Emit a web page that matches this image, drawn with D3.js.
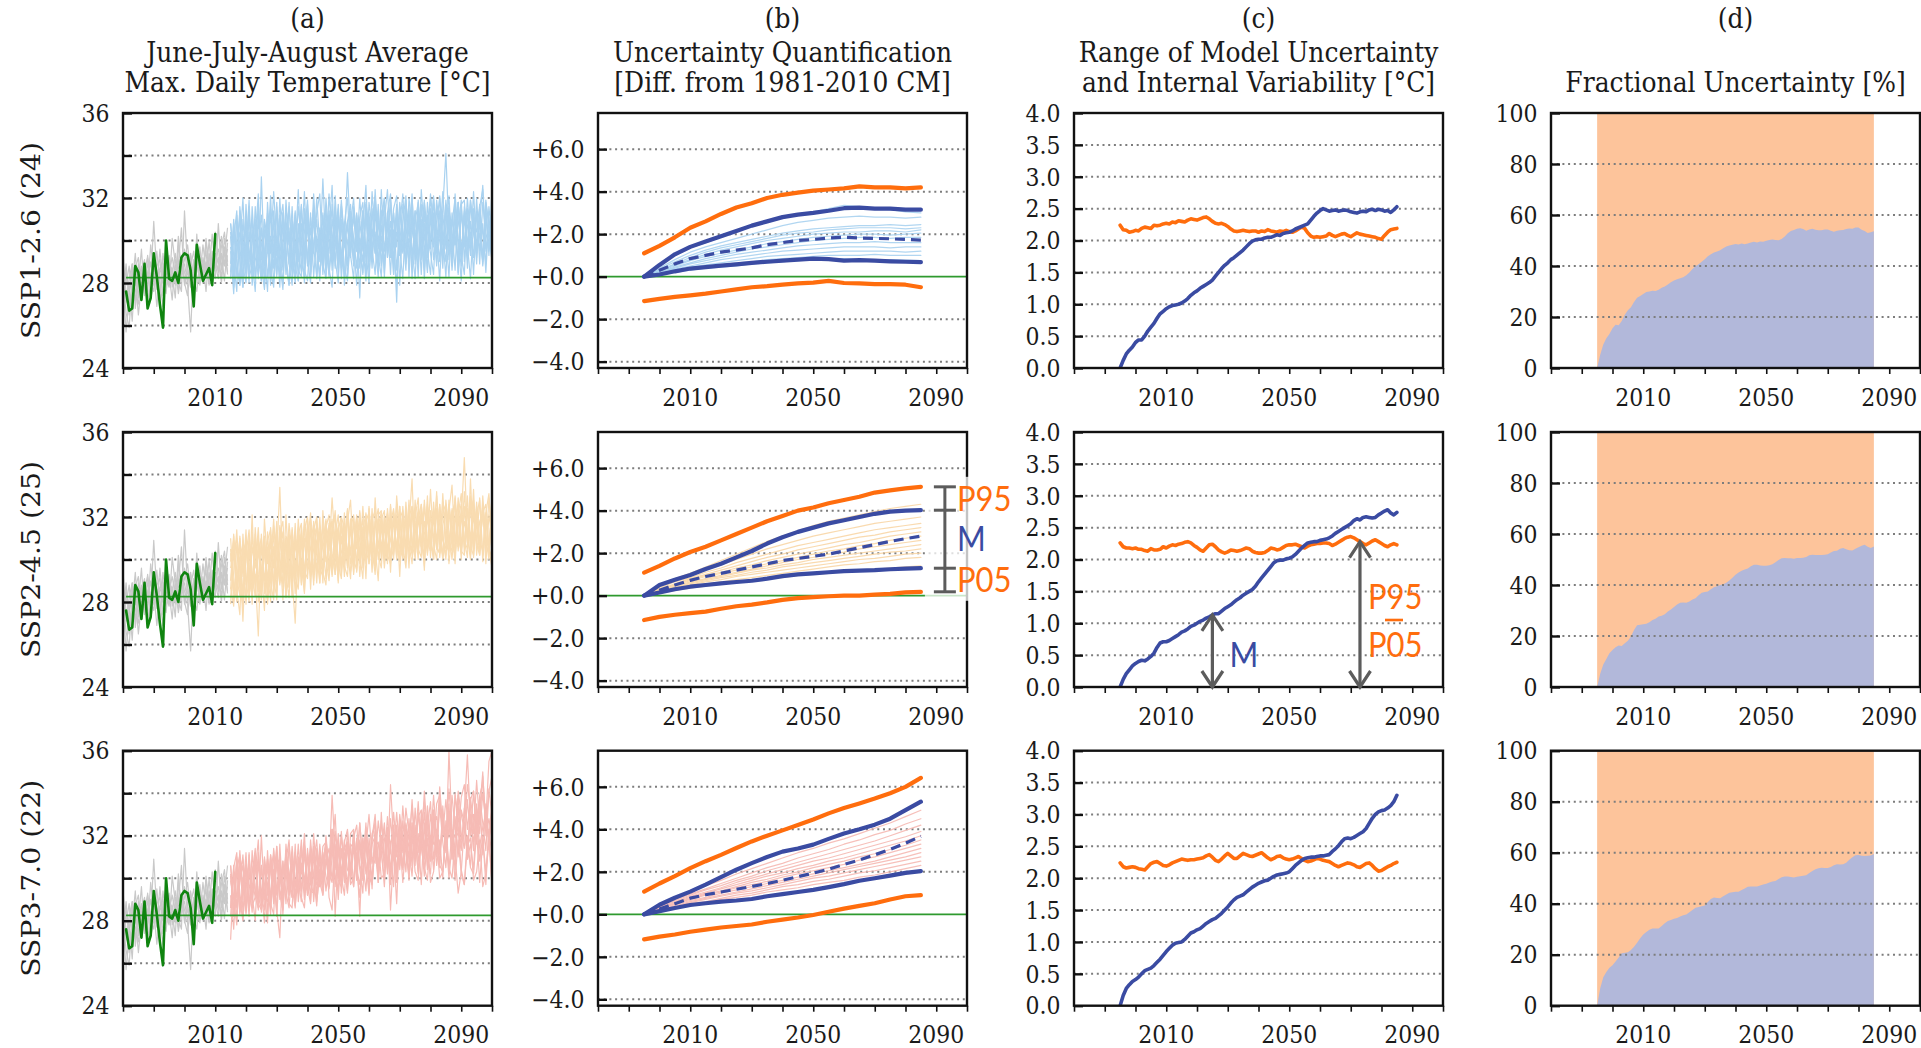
<!DOCTYPE html>
<html>
<head>
<meta charset="utf-8">
<script src="https://d3js.org/d3.v7.min.js"></script>
<style>
  body { margin: 0; background: #fff; }
  svg { display: block; }
</style>
</head>
<body>
<svg id="fig" width="1921" height="1048"></svg>
<script>
// ---------------------------------------------------------------
// JJA average of daily maximum temperature (°C)
// ---------------------------------------------------------------
const obsStart = 1981;            // observations 1981-2010
const obsTmax = [27.6,26.7,26.8,28.8,28.5,27.2,28.9,26.8,27.3,29.4,28.3,27.0,25.9,30.0,28.2,
                 28.1,28.5,28.0,29.2,29.4,29.3,28.6,26.9,29.8,28.9,28.1,28.4,28.7,27.9,30.3];

const histStart = 1980;           // historical model runs 1980-2014
const histRuns = [
  [27.9,25.7,27.4,28.6,27.1,28.9,28.2,27.5,29.3,28.0,30.9,28.4,27.2,28.8,29.1,27.9,28.5,29.4,28.1,27.6,31.4,28.7,27.8,28.9,29.2,28.3,29.8,28.6,28.0,29.5,28.9,28.2,29.7,30.4,28.8],
  [28.8,27.6,26.5,27.9,29.4,27.3,28.6,29.1,27.0,28.3,28.9,27.7,29.6,28.1,27.5,29.0,28.4,27.3,29.8,28.6,28.2,27.9,25.7,29.1,28.5,29.4,28.0,30.1,28.7,27.9,29.3,28.5,30.2,28.9,29.6],
  [26.9,28.4,27.8,26.2,28.7,29.2,27.6,28.4,28.9,27.2,28.1,29.5,28.0,26.9,28.7,29.3,27.8,28.6,28.9,30.6,27.9,28.8,29.4,28.2,27.6,29.0,28.7,29.5,27.9,28.8,30.4,29.1,28.3,29.7,28.4],
  [29.5,27.1,28.2,28.9,26.8,28.0,29.6,27.4,28.1,29.0,27.9,28.6,27.3,29.4,28.2,27.8,30.1,28.9,27.5,28.4,29.1,29.8,28.5,27.7,30.3,28.1,28.9,27.6,29.4,28.7,28.2,30.8,28.6,29.3,30.6],
  [28.2,26.6,25.9,28.1,27.7,27.0,28.4,28.8,27.6,29.8,28.5,26.9,28.3,28.0,29.6,28.4,27.2,29.1,28.7,29.3,28.0,27.4,28.8,29.5,28.3,27.9,29.2,28.4,30.0,28.2,29.0,28.6,29.4,28.1,29.9],
  [27.4,28.9,27.0,27.8,28.3,26.5,27.9,28.6,29.2,28.1,27.6,28.8,29.1,27.4,28.3,29.0,28.6,27.9,30.2,28.5,28.9,28.0,29.3,27.6,28.8,29.7,28.2,29.0,28.5,30.3,28.7,29.2,28.0,29.6,28.5],
  [28.6,27.9,28.8,27.2,28.0,28.7,27.3,29.0,28.4,27.5,29.3,28.2,28.7,29.0,27.8,28.5,29.2,28.3,27.7,29.0,29.6,28.4,28.1,28.7,29.3,28.0,28.6,29.9,28.8,28.4,29.1,29.6,28.7,30.1,29.0],
  [28.0,28.5,27.6,28.9,27.9,28.2,28.8,27.7,28.5,28.9,28.3,27.8,28.6,28.4,29.0,28.2,28.7,28.0,28.9,29.2,28.5,28.1,28.8,28.6,28.9,29.1,28.4,28.8,29.2,28.6,29.4,28.9,29.2,28.8,29.3]
];

const futStart = 2015;            // scenario runs 2015-2100
const ssp126Runs = [
  [30.4,28.3,31.2,29.0,27.8,30.9,29.6,28.5,31.6,29.2, 28.1,30.9,30.2,27.9,31.4,29.3,30.6,28.6,31.9,29.8, 30.8,28.4,29.9,31.7,28.9,31.0,28.5,31.5,29.6,30.4, 28.6,32.0,30.1,29.0,31.2,28.3,30.9,29.7,33.2,30.2, 29.0,31.3,29.4,28.5,31.8,30.6,29.2,31.4,28.8,31.1, 32.0,29.5,30.5,28.4,31.3,29.3,31.7,30.0,29.0,31.4, 29.1,31.9,30.1,28.6,31.2,29.6,32.0,30.3,29.0,31.5, 34.1,30.4,29.3,31.8,29.9,28.8,31.4,29.7,31.9,30.5, 29.2,31.5,30.3,28.9,31.6,30.0],
  [28.9,30.8,28.3,29.8,32.0,28.5,30.4,29.1,27.6,31.2, 29.9,28.0,31.8,29.4,30.9,28.4,29.8,31.3,28.8,27.9, 31.0,29.5,32.4,29.0,28.3,30.9,29.7,31.6,28.2,29.9, 31.2,29.1,30.4,32.6,28.7,31.0,29.5,28.3,30.8,29.4, 31.6,30.3,28.7,31.4,29.5,28.0,30.9,32.1,29.6,30.2, 29.0,31.3,32.2,29.8,27.9,30.6,29.4,31.7,30.6,28.8, 31.4,29.2,30.3,31.9,29.5,28.4,31.0,29.7,32.1,30.1, 29.0,31.5,30.5,28.6,31.8,29.5,31.2,29.8,28.2,30.9, 30.4,31.7,29.1,31.3,29.6,30.6],
  [28.2,30.1,31.4,27.9,29.6,30.7,28.4,29.9,31.0,28.2, 33.0,28.8,30.5,28.2,29.7,31.4,28.9,27.7,30.8,29.9, 28.6,31.3,28.1,30.0,31.1,29.1,28.0,31.6,29.5,30.6, 28.4,30.3,29.4,31.7,28.8,31.3,28.2,30.0,30.9,29.2, 31.5,29.5,32.0,29.8,28.1,30.9,29.7,30.4,28.6,32.4, 29.5,30.8,28.4,31.3,29.7,31.8,30.4,28.9,31.4,29.3, 30.5,28.3,31.7,29.4,30.8,32.0,29.1,30.2,28.1,31.2, 29.8,31.6,28.8,32.2,30.1,29.2,31.3,28.7,31.7,30.4, 29.4,30.9,32.6,29.6,30.4,29.0],
  [30.8,29.0,27.6,31.6,29.8,28.3,31.2,28.9,30.1,32.2, 28.1,29.5,30.9,28.6,27.8,31.6,29.3,30.7,28.4,31.8, 29.2,28.0,30.6,29.8,32.3,28.8,31.3,28.3,30.2,29.4, 32.9,29.6,28.4,31.0,29.9,31.5,28.7,30.8,32.0,29.3, 28.2,31.2,29.8,30.6,32.6,29.0,31.5,29.6,28.3,31.3, 31.8,29.2,30.9,29.7,31.7,27.9,30.9,32.1,29.4,30.2, 31.4,28.9,32.4,30.3,28.6,31.1,29.7,31.9,30.6,29.1, 31.7,29.5,30.8,32.0,28.5,31.3,30.1,29.2,31.9,30.4, 29.6,31.1,28.9,31.8,30.8,29.4],
  [29.5,27.5,30.1,31.0,28.1,29.9,28.0,31.6,29.2,28.4, 30.6,29.3,27.6,31.2,30.1,28.3,32.0,29.2,30.4,28.9, 27.9,30.9,29.6,28.5,31.5,28.9,31.1,29.7,28.3,30.5, 29.4,31.6,28.7,27.8,30.9,29.5,31.7,29.9,28.9,31.2, 28.8,30.5,27.3,31.4,29.4,30.9,28.7,31.8,29.7,30.7, 28.5,31.3,29.2,30.5,27.1,31.6,29.5,30.8,28.9,32.0, 29.7,30.9,28.4,31.4,29.2,30.1,32.1,29.4,30.6,28.7, 31.5,29.1,31.0,29.8,31.8,29.0,31.2,29.6,30.4,29.2, 32.0,29.5,30.8,28.5,31.1,29.8],
  [28.5,31.0,29.0,27.9,30.3,29.5,31.9,28.4,29.6,30.9, 28.8,27.7,29.7,31.5,29.2,31.8,28.2,29.9,31.1,28.9, 31.6,28.8,28.1,30.8,29.4,31.7,29.1,32.2,29.6,28.4, 30.3,29.5,31.2,28.6,32.1,29.4,30.8,28.7,28.1,31.3, 29.9,27.9,30.9,29.5,31.7,29.0,32.3,30.0,29.3,28.3, 31.1,29.8,31.9,29.1,30.4,29.6,28.2,31.3,30.2,32.2, 28.9,31.6,29.4,30.8,28.5,31.5,29.8,30.9,32.0,29.2, 30.2,28.3,31.3,29.8,30.7,31.9,29.0,31.4,29.5,32.3, 29.6,30.9,28.8,31.7,29.3,32.5],
  [29.7,28.6,30.9,29.8,27.8,31.7,29.0,30.5,28.2,30.0, 31.2,28.4,29.6,32.1,28.7,30.1,29.6,27.9,31.5,30.4, 29.0,31.4,28.6,28.3,30.4,31.9,29.2,30.9,29.8,28.1, 31.3,28.9,32.2,30.0,29.1,28.0,31.6,29.7,30.9,31.7, 29.2,30.8,29.7,28.4,31.3,30.2,29.0,32.4,29.8,31.4, 28.3,30.9,29.4,31.5,32.1,29.5,30.4,29.0,31.6,28.2, 30.9,31.8,29.3,30.2,29.6,32.2,30.6,28.8,31.4,29.8, 31.9,30.3,29.2,31.2,28.4,31.6,29.7,32.0,30.1,29.3, 31.4,28.9,31.8,30.4,29.5,30.9],
  [30.8,29.3,28.6,28.0,31.0,28.9,31.6,27.9,29.5,31.7, 29.1,30.5,28.3,29.6,32.3,29.9,27.8,31.3,29.0,30.6, 28.3,29.3,31.6,29.9,28.0,30.8,28.8,29.7,31.3,32.2, 28.9,28.2,30.6,29.5,31.6,28.7,31.0,27.9,29.9,30.8, 32.0,29.5,30.1,29.0,31.4,28.4,30.5,29.4,31.7,28.8, 30.9,32.4,29.7,28.9,31.2,30.0,29.5,31.9,28.3,31.0, 29.8,31.3,29.1,31.8,30.4,29.4,28.4,31.6,30.2,29.2, 30.7,32.1,29.4,30.1,29.0,31.7,31.9,29.6,30.9,28.4, 31.3,30.2,29.2,31.9,30.6,29.6],
  [28.3,30.4,29.2,31.4,28.8,28.0,30.0,31.0,28.4,29.4, 30.5,29.0,31.3,28.1,29.8,28.9,30.8,31.7,29.4,27.9, 29.9,31.2,29.0,31.6,28.6,28.1,30.6,29.4,32.0,29.7, 28.7,31.0,28.3,30.0,31.4,29.1,31.9,30.1,28.8,31.4, 30.1,28.7,31.1,31.8,29.0,31.3,29.6,28.4,30.9,29.5, 32.0,29.2,30.3,31.3,28.6,30.7,32.2,29.4,30.1,29.6, 28.2,31.2,30.4,29.0,31.8,29.8,31.3,29.0,30.1,32.3, 29.6,30.9,28.6,30.4,31.8,29.3,28.4,31.5,29.8,31.1, 28.9,31.6,32.4,29.5,30.5,29.0],
  [30.2,27.8,29.5,30.4,29.0,31.2,28.2,28.9,30.6,29.7, 28.4,31.0,29.4,30.2,28.0,29.7,31.2,29.0,29.9,31.6, 29.3,28.3,30.8,29.3,29.8,31.3,28.4,29.6,31.0,29.0, 30.6,28.4,31.4,29.3,29.6,31.7,29.0,30.8,28.3,29.9, 31.1,29.6,28.9,30.4,28.4,31.8,30.6,29.4,31.4,28.9, 29.7,30.5,31.8,28.4,31.2,29.3,30.3,28.6,32.0,30.7, 29.5,28.9,31.0,28.2,30.8,29.8,31.8,30.4,29.2,30.1, 28.3,31.3,29.5,30.6,29.9,28.1,31.6,30.7,29.3,31.5, 29.8,30.3,29.0,31.1,29.6,31.4]
];
const ssp245Runs = [
  [29.0,31.2,28.0,30.1,27.1,30.6,29.7,28.2,31.5,29.3, 28.2,31.9,29.8,30.8,28.4,30.2,33.4,29.4,30.9,28.7, 31.5,29.6,31.1,28.9,31.4,32.0,29.4,30.5,31.6,29.5, 30.8,31.9,29.3,31.0,32.3,29.8,29.1,31.7,30.2,31.4, 32.1,29.4,31.1,31.9,29.8,32.4,30.5,29.3,31.9,30.6, 31.5,29.8,32.6,30.4,31.9,29.2,32.1,30.6,31.6,33.8, 30.0,32.2,31.0,29.7,32.6,31.3,30.0,32.4,30.9,30.2, 32.8,31.3,30.0,32.0,32.5,30.3,31.8,31.0,33.0,30.1, 31.9,30.7,32.6,29.8,32.1,31.1],
  [30.3,28.4,29.7,31.0,27.7,30.2,31.4,28.5,29.3,26.4, 30.8,28.7,28.1,31.2,29.6,31.8,28.9,30.3,28.3,31.2, 29.1,27.0,30.8,29.7,31.9,30.6,29.2,31.4,32.0,30.0, 29.3,31.6,30.4,32.9,30.7,29.3,31.9,30.4,32.3,29.8, 30.6,32.1,29.9,31.5,29.1,32.5,30.4,31.8,30.0,31.6, 29.8,32.4,30.9,30.0,33.0,31.2,30.2,32.1,29.6,32.5, 31.5,30.0,32.6,31.3,30.3,32.3,30.8,33.2,30.1,31.6, 32.4,29.8,31.2,32.9,30.6,31.9,34.8,31.2,30.2,32.6, 31.5,30.3,33.0,31.0,30.0,32.3],
  [28.2,29.4,31.4,28.6,27.9,30.9,28.8,32.1,28.3,30.4, 29.4,27.6,31.3,29.0,30.6,28.1,31.6,29.4,31.0,28.7, 31.4,29.1,31.9,29.7,28.4,31.1,29.3,31.8,30.2,28.9, 32.3,30.0,29.0,31.4,32.0,29.6,31.1,29.2,31.8,32.8, 29.9,31.4,30.2,29.1,32.1,29.8,31.8,30.5,29.0,32.2, 30.5,31.9,29.4,32.3,30.0,32.5,30.7,29.6,32.0,30.2, 32.8,30.5,32.1,29.5,32.5,30.9,30.0,33.0,31.2,30.0, 31.0,32.6,31.4,29.8,32.4,30.6,33.2,31.1,30.0,32.1, 30.8,32.9,29.9,31.8,30.5,29.6],
  [29.9,30.9,28.6,27.4,31.2,29.0,28.0,30.6,29.6,31.5, 28.7,30.9,27.9,29.8,31.9,29.1,30.3,28.1,31.1,30.7, 28.6,31.3,29.2,31.6,29.4,30.8,32.2,29.3,30.9,31.3, 28.9,31.8,30.2,29.3,31.2,32.1,29.4,31.6,30.4,29.1, 32.0,30.5,32.3,29.6,30.9,31.8,29.9,32.9,30.5,32.0, 29.6,31.3,32.0,30.3,32.6,31.0,30.0,32.4,30.7,29.8, 32.0,32.9,30.3,31.8,30.6,33.3,30.7,30.0,32.3,31.0, 30.2,32.3,33.5,30.6,31.9,30.0,32.5,30.8,32.7,30.4, 32.0,30.2,32.6,31.0,30.6,32.3],
  [28.7,27.8,30.7,29.5,29.8,28.1,31.2,28.8,30.8,28.0, 29.5,31.1,28.8,28.3,30.6,29.2,31.5,28.7,30.1,31.3, 28.9,30.8,29.3,31.2,28.5,31.9,30.5,29.0,30.6,31.6, 30.7,29.1,31.7,30.3,29.3,31.4,32.0,29.7,29.2,31.6, 30.2,31.9,29.2,31.2,31.6,29.9,32.4,29.5,31.4,31.9, 32.3,30.0,31.8,30.4,32.0,29.9,32.5,30.5,32.8,30.7, 30.1,32.0,30.6,32.6,30.2,31.9,32.3,30.6,30.3,33.1, 30.7,30.4,32.3,30.8,32.9,30.4,30.2,32.4,30.9,33.3, 30.2,31.8,32.2,32.6,30.6,30.0],
  [29.6,30.5,28.3,31.1,29.2,31.4,28.4,29.0,30.8,28.5, 31.2,29.0,30.4,28.0,31.6,30.5,28.8,30.9,29.3,31.7, 30.3,29.1,31.5,28.8,31.0,29.3,31.9,31.0,28.9,31.3, 30.5,31.5,32.1,29.2,30.9,31.5,29.7,32.2,30.1,31.6, 29.4,32.0,30.1,32.5,30.4,29.9,31.9,32.3,30.2,29.6, 32.1,30.4,31.7,32.4,30.0,31.9,30.2,32.7,30.9,30.3, 31.8,30.3,32.3,30.6,33.0,30.1,32.0,30.5,32.6,31.0, 30.0,32.8,30.8,30.2,32.1,33.1,30.3,32.4,30.6,30.2, 32.5,30.9,30.4,32.2,33.1,30.7],
  [27.9,30.3,31.0,28.7,30.4,27.9,30.6,29.1,28.3,31.0, 28.6,30.2,30.9,31.4,28.9,28.3,31.2,31.8,29.0,30.6, 28.2,31.0,30.5,29.2,31.6,29.7,29.4,31.1,31.5,28.9, 31.7,29.9,30.5,31.9,29.3,31.2,30.4,29.8,32.4,30.2, 31.8,29.7,32.2,30.4,30.1,31.9,29.4,31.7,32.4,29.9, 31.6,32.2,29.9,31.9,30.5,32.5,30.1,32.0,30.2,32.3, 30.3,32.5,30.8,30.0,32.1,30.4,32.7,30.9,31.9,30.1, 32.5,30.5,32.4,30.2,32.0,32.6,30.9,30.1,33.8,30.5, 32.1,32.8,30.2,32.2,30.3,32.5],
  [30.5,28.0,29.0,30.7,28.3,31.0,29.2,28.5,30.2,30.9, 28.1,30.6,29.0,31.5,28.6,31.2,29.2,28.9,32.1,29.3, 30.9,28.4,31.2,31.7,28.9,30.6,31.3,28.8,31.9,29.6, 29.2,31.2,29.5,31.6,30.9,29.0,32.0,31.5,29.6,31.9, 30.0,29.5,31.8,30.2,32.2,29.8,31.7,30.0,32.1,32.3, 30.1,31.7,30.0,32.2,30.2,31.9,32.3,29.9,32.0,32.5, 30.3,31.9,32.6,30.4,32.2,30.6,30.3,32.3,30.7,32.7, 31.0,30.3,32.2,32.7,30.4,32.1,30.6,33.0,30.5,32.3, 30.7,30.2,32.5,30.8,30.6,32.6],
  [31.0,28.7,28.1,30.1,30.7,28.8,30.5,27.9,31.2,28.6, 29.2,30.9,28.3,30.2,31.1,28.6,30.4,31.3,28.2,30.8, 29.3,31.7,28.8,30.9,29.1,31.5,28.6,31.2,29.4,32.0, 29.3,31.0,31.6,29.6,31.3,28.9,31.7,29.9,32.3,29.4, 30.2,32.0,29.8,31.5,32.1,30.1,31.8,29.7,31.6,32.2, 30.6,30.0,32.5,30.2,32.1,30.5,30.1,32.2,30.7,30.3, 32.4,30.5,30.1,32.8,30.8,30.4,32.3,30.7,32.6,30.9, 30.5,32.3,30.6,33.0,31.0,30.4,32.4,30.7,32.5,30.9, 32.7,30.6,32.2,30.3,32.9,31.1],
  [28.6,31.1,29.1,28.3,30.4,30.8,28.2,31.3,28.8,30.4, 31.0,28.4,30.6,28.9,28.1,31.4,29.0,30.8,29.3,28.2, 31.1,29.2,28.6,31.2,29.5,29.1,31.6,29.3,30.8,31.2, 29.4,28.8,31.3,31.8,29.9,31.6,29.3,31.2,29.7,31.9, 29.3,31.3,31.6,29.9,31.8,32.2,30.2,29.7,31.9,30.3, 32.0,30.2,29.8,32.2,30.4,30.3,31.9,30.1,32.5,30.8, 30.4,32.2,30.6,30.3,32.3,30.7,32.4,30.5,30.3,32.2, 32.6,30.8,30.4,32.1,30.6,32.5,30.9,30.5,32.3,32.8, 30.8,30.4,32.4,30.7,30.3,32.2]
];
const ssp370Runs = [
  [30.1,28.2,30.9,29.0,28.0,30.6,29.8,28.4,31.2,29.1, 28.6,31.0,29.7,28.3,31.3,29.2,30.5,28.6,31.6,29.9, 30.9,28.7,30.2,31.8,29.3,31.1,28.9,31.5,29.9,30.4, 29.3,32.0,30.4,33.9,31.2,29.0,31.4,30.1,32.2,30.5, 29.6,31.9,30.4,29.3,32.4,31.1,30.0,32.2,29.8,31.6, 32.3,30.5,31.4,29.6,32.5,30.4,32.7,31.3,30.2,32.6, 30.6,33.1,31.5,30.4,33.0,31.3,33.2,31.8,30.7,33.4, 31.2,36.0,32.3,31.0,33.9,32.1,31.4,33.7,32.0,34.1, 31.9,33.8,32.6,31.3,34.2,32.9],
  [27.1,30.2,28.6,29.8,31.1,28.5,30.3,29.2,28.0,30.9, 29.5,27.9,31.3,29.0,30.4,28.5,27.2,30.8,29.3,28.6, 30.7,29.6,31.6,29.1,28.6,31.0,29.8,31.5,28.9,30.2, 31.2,29.4,30.6,32.3,28.2,31.4,30.1,29.2,31.6,30.3, 31.7,30.4,29.1,31.9,30.6,29.3,31.8,32.7,30.4,31.2, 30.0,32.4,28.5,31.2,29.8,31.7,30.5,32.6,31.4,30.1, 32.5,30.8,31.6,33.1,31.0,30.2,32.8,31.3,33.4,31.7, 30.5,33.0,32.1,30.4,33.4,31.8,32.6,31.4,30.6,33.0, 32.2,33.8,31.1,33.5,31.9,32.8],
  [28.6,30.5,31.2,28.3,29.8,30.6,28.5,30.2,31.4,28.6, 32.0,29.0,30.9,28.6,30.0,31.5,29.2,28.5,31.2,30.3, 29.1,31.6,28.9,30.5,31.5,29.6,28.8,32.1,30.1,31.2, 29.2,30.9,29.9,32.3,29.6,31.8,29.3,30.8,31.7,30.1, 32.2,30.4,32.6,30.7,29.4,31.9,30.7,31.4,29.8,33.1, 30.6,31.9,29.7,32.5,31.0,33.0,31.7,30.3,32.8,30.9, 32.0,30.2,33.2,31.2,32.4,33.6,30.9,32.1,30.5,33.0, 31.8,33.5,30.9,34.0,32.2,31.3,33.3,30.9,33.8,32.5, 31.6,33.2,35.0,32.0,32.8,31.8],
  [30.6,29.0,27.8,31.0,29.7,28.5,31.1,29.0,30.3,31.8, 28.4,29.7,30.9,28.8,28.3,31.5,29.6,30.8,28.8,31.6, 29.6,28.6,31.0,30.2,32.1,29.2,31.5,28.9,30.6,29.8, 29.2,31.7,30.5,31.3,33.0,30.0,32.2,30.6,29.3,32.1, 32.3,30.2,31.8,30.7,32.6,29.2,31.9,33.0,30.7,31.4, 32.6,30.4,34.4,31.8,30.3,32.7,31.2,33.3,32.1,30.6, 33.3,31.2,32.5,33.6,30.6,33.0,31.9,31.0,33.7,32.2, 31.6,33.1,30.9,33.9,32.9,31.4,33.2,35.8,32.6,31.7, 33.5,32.1,34.0,32.6,31.9,33.6],
  [29.2,27.6,30.4,31.1,28.4,30.0,28.2,31.3,29.1,28.6, 30.5,29.3,27.9,31.0,30.2,28.4,31.6,29.1,30.3,28.8, 28.6,31.2,29.9,28.9,31.5,29.2,31.3,30.0,28.7,30.9, 29.8,31.7,29.1,28.5,31.4,30.0,32.0,30.3,29.4,31.6, 29.6,31.2,28.2,31.9,30.2,31.6,29.5,32.4,30.4,31.3, 29.6,32.2,30.3,31.4,28.8,32.4,30.6,31.8,29.9,32.6, 30.9,32.1,29.7,32.6,30.4,31.3,33.2,30.6,31.8,30.0, 32.7,30.4,32.3,31.0,29.3,30.3,32.5,30.9,31.6,30.4, 33.0,30.8,32.0,29.7,32.3,31.0],
  [29.9,29.0,30.8,28.4,29.3,31.2,28.7,30.4,30.9,29.0, 30.6,28.5,29.4,31.1,29.0,30.7,30.9,29.0,31.3,29.6, 31.5,29.7,29.3,31.4,29.8,31.2,30.1,30.8,31.8,29.6, 30.9,31.6,29.6,32.3,30.4,32.1,30.2,31.7,32.3,30.3, 32.2,30.6,32.6,30.8,31.5,33.0,31.0,30.7,32.7,31.5, 30.8,32.9,31.2,33.1,31.4,31.0,33.4,31.5,31.1,33.7, 31.5,33.6,31.4,34.1,32.0,31.6,33.9,31.8,34.3,32.3, 31.8,34.2,32.2,31.9,34.1,33.0,32.3,34.4,33.3,32.1, 34.6,32.5,34.8,32.7,35.5,36.0],
  [28.2,30.6,29.1,29.9,30.6,28.3,30.2,29.6,29.2,31.2, 28.8,30.6,28.3,31.1,29.3,30.9,29.0,30.1,31.0,29.2, 30.8,29.0,30.7,29.4,31.2,29.3,30.9,31.0,29.2,31.3, 29.7,30.8,31.4,29.9,30.7,31.5,29.8,31.2,29.6,31.6, 31.4,29.9,31.7,30.1,31.8,30.0,31.6,32.0,30.3,32.0, 30.5,32.1,30.4,31.9,32.3,30.6,32.2,32.5,30.8,32.4, 30.9,31.8,32.5,30.9,32.7,30.8,32.5,32.9,31.1,32.8, 31.3,33.1,31.2,32.9,31.0,33.2,32.6,31.1,33.0,31.3, 33.3,31.5,32.4,33.1,31.4,33.4],
  [30.2,28.4,31.0,29.3,28.1,29.8,30.7,29.0,31.0,28.5, 30.6,29.2,28.9,30.5,31.1,28.2,30.8,29.0,30.6,29.7, 29.1,31.1,29.4,30.7,29.0,31.4,29.7,29.3,31.2,29.6, 31.0,30.1,29.5,31.0,31.6,29.9,29.6,31.4,31.7,29.8, 31.4,30.4,29.7,31.5,31.8,30.0,29.8,31.7,30.1,31.6, 31.9,30.2,31.7,32.1,30.3,31.9,30.4,32.2,30.2,32.0, 31.8,30.3,32.2,30.5,29.9,32.0,30.4,32.3,30.6,30.3, 32.1,30.5,30.0,31.9,32.4,30.4,29.7,32.0,30.5,30.2, 32.2,29.8,31.8,30.3,32.1,29.5],
  [30.6,28.3,29.0,31.3,29.0,30.8,28.5,29.5,31.1,28.8, 28.5,30.9,29.2,30.7,28.8,31.2,29.4,29.1,30.8,31.8, 29.4,31.2,29.3,31.5,29.8,29.4,31.8,30.1,29.7,31.6, 30.0,31.9,30.2,29.8,32.2,30.4,30.0,31.8,30.4,30.1, 31.9,32.5,30.6,30.2,32.2,30.5,32.1,32.5,30.3,32.7, 31.1,30.7,32.8,31.3,33.1,31.2,31.6,32.5,31.8,33.4, 31.2,32.9,33.2,31.4,33.4,31.8,31.6,33.5,33.9,32.1, 33.7,31.9,33.9,32.3,32.0,33.8,34.4,32.3,33.7,34.1, 32.2,33.9,34.5,32.4,34.1,34.8],
  [28.6,30.3,28.0,30.4,30.9,28.4,31.2,28.7,29.1,30.7, 28.9,28.6,30.6,29.0,31.4,29.3,31.0,28.3,30.7,29.2, 31.2,29.1,30.9,29.4,31.6,29.9,29.4,29.3,31.4,29.8, 31.5,31.7,29.6,31.6,30.0,29.5,31.3,29.8,31.5,29.7, 30.0,31.5,31.6,29.9,31.8,30.1,29.7,31.5,31.7,30.0, 30.2,31.9,29.9,31.6,30.1,31.8,29.8,31.6,30.0,32.0, 30.3,29.9,31.7,30.1,31.9,29.8,30.3,31.8,30.0,30.3, 32.0,30.0,31.6,29.9,31.8,30.2,29.7,31.5,31.9,29.9, 30.3,31.8,29.6,30.2,31.7,29.8]
];

// ---------------------------------------------------------------
// 30-year running means, change from the 1981-2010 model climatology (°C)
// centred years 1995, 2000, ..., 2085
// ---------------------------------------------------------------
const stepYears = d3.range(1995, 2086, 5);

const ssp126P95 = [1.10,1.45,1.85,2.30,2.60,2.95,3.25,3.45,3.70,3.85,3.95,4.05,4.10,4.15,4.25,4.20,4.20,4.15,4.20];
const ssp126P05 = [-1.15,-1.05,-0.95,-0.88,-0.80,-0.70,-0.60,-0.50,-0.45,-0.38,-0.32,-0.28,-0.20,-0.30,-0.32,-0.35,-0.35,-0.38,-0.50];
const ssp126Hi  = [0,0.55,1.05,1.40,1.65,1.90,2.15,2.40,2.60,2.80,2.92,3.00,3.10,3.22,3.25,3.20,3.20,3.15,3.15];
const ssp126Lo  = [0,0.10,0.25,0.38,0.45,0.52,0.58,0.65,0.70,0.75,0.80,0.85,0.82,0.75,0.78,0.75,0.72,0.70,0.68];
const ssp126Med = [0,0.30,0.60,0.85,1.00,1.15,1.25,1.35,1.50,1.60,1.70,1.75,1.82,1.85,1.82,1.80,1.78,1.75,1.72];
const ssp126Members = [
  [0,0.50,1.00,1.35,1.60,1.85,2.10,2.35,2.55,2.75,2.90,3.05,3.20,3.35,3.30,3.20,3.15,3.05,3.00],
  [0,0.40,0.80,1.15,1.40,1.60,1.80,2.00,2.20,2.40,2.55,2.65,2.75,2.80,2.85,2.80,2.80,2.75,2.80],
  [0,0.35,0.70,1.00,1.25,1.45,1.60,1.75,1.90,2.05,2.15,2.25,2.30,2.35,2.40,2.40,2.45,2.40,2.45],
  [0,0.30,0.60,0.90,1.15,1.35,1.50,1.65,1.80,1.95,2.05,2.10,2.20,2.25,2.30,2.30,2.30,2.25,2.30],
  [0,0.30,0.55,0.80,1.05,1.25,1.40,1.55,1.70,1.80,1.90,2.00,2.05,2.10,2.10,2.15,2.15,2.10,2.20],
  [0,0.25,0.50,0.75,0.95,1.10,1.25,1.40,1.55,1.65,1.75,1.85,1.90,1.95,2.00,2.00,1.95,2.00,2.05],
  [0,0.20,0.45,0.65,0.85,1.00,1.15,1.30,1.40,1.50,1.60,1.70,1.75,1.80,1.85,1.85,1.80,1.85,1.85],
  [0,0.20,0.40,0.60,0.75,0.90,1.05,1.15,1.25,1.35,1.45,1.50,1.55,1.60,1.60,1.65,1.60,1.60,1.60],
  [0,0.15,0.35,0.50,0.65,0.80,0.90,1.00,1.10,1.20,1.25,1.30,1.35,1.40,1.40,1.40,1.35,1.40,1.40],
  [0,0.15,0.30,0.45,0.55,0.65,0.75,0.85,0.95,1.00,1.05,1.10,1.15,1.20,1.20,1.20,1.20,1.15,1.20],
  [0,0.10,0.25,0.35,0.45,0.55,0.65,0.70,0.80,0.85,0.90,0.95,1.00,1.00,1.00,1.05,1.00,1.00,1.00],
  [0,0.10,0.20,0.30,0.40,0.45,0.50,0.60,0.65,0.70,0.75,0.80,0.85,0.85,0.80,0.80,0.80,0.78,0.75]
];

const ssp245P95 = [1.08,1.40,1.75,2.05,2.30,2.60,2.90,3.20,3.50,3.75,4.00,4.15,4.35,4.50,4.65,4.85,4.95,5.05,5.12];
const ssp245P05 = [-1.15,-1.00,-0.90,-0.82,-0.75,-0.62,-0.50,-0.42,-0.32,-0.20,-0.12,-0.07,-0.03,0.00,0.00,0.05,0.08,0.15,0.18];
const ssp245Hi  = [0,0.50,0.75,0.97,1.25,1.50,1.80,2.10,2.45,2.75,3.00,3.20,3.40,3.55,3.70,3.85,3.95,4.00,4.02];
const ssp245Lo  = [0,0.15,0.30,0.42,0.50,0.58,0.64,0.70,0.80,0.92,1.00,1.05,1.10,1.15,1.18,1.20,1.24,1.27,1.29];
const ssp245Med = [0,0.25,0.50,0.72,0.90,1.05,1.20,1.35,1.50,1.65,1.75,1.85,1.95,2.10,2.25,2.40,2.55,2.68,2.80];
const ssp245Members = [
  [0,0.50,0.80,1.05,1.35,1.65,1.95,2.25,2.55,2.80,3.05,3.30,3.50,3.65,3.80,3.95,4.10,4.20,4.30],
  [0,0.40,0.70,0.95,1.20,1.45,1.70,1.95,2.20,2.40,2.60,2.80,2.95,3.10,3.25,3.40,3.50,3.60,3.70],
  [0,0.35,0.65,0.85,1.10,1.30,1.55,1.75,1.95,2.15,2.35,2.50,2.65,2.80,2.95,3.10,3.20,3.30,3.40],
  [0,0.30,0.55,0.80,1.00,1.20,1.40,1.60,1.80,1.95,2.15,2.30,2.45,2.60,2.75,2.85,3.00,3.10,3.20],
  [0,0.30,0.50,0.75,0.95,1.10,1.30,1.45,1.65,1.80,1.95,2.10,2.25,2.40,2.50,2.65,2.80,2.90,3.00],
  [0,0.25,0.50,0.70,0.90,1.05,1.20,1.35,1.50,1.65,1.80,1.95,2.10,2.20,2.35,2.45,2.60,2.70,2.80],
  [0,0.25,0.45,0.65,0.80,0.95,1.10,1.25,1.40,1.55,1.70,1.80,1.95,2.05,2.20,2.30,2.40,2.50,2.60],
  [0,0.20,0.40,0.60,0.75,0.90,1.05,1.20,1.30,1.45,1.55,1.70,1.80,1.90,2.00,2.10,2.20,2.30,2.40],
  [0,0.20,0.35,0.55,0.70,0.85,0.95,1.10,1.20,1.35,1.45,1.55,1.65,1.75,1.85,1.95,2.05,2.10,2.20],
  [0,0.15,0.35,0.50,0.65,0.75,0.90,1.00,1.10,1.20,1.30,1.40,1.50,1.60,1.70,1.75,1.85,1.95,2.00],
  [0,0.15,0.30,0.45,0.55,0.65,0.75,0.85,0.95,1.05,1.15,1.25,1.35,1.45,1.50,1.60,1.65,1.75,1.80],
  [0,0.10,0.25,0.35,0.45,0.55,0.60,0.70,0.80,0.85,0.95,1.00,1.05,1.15,1.20,1.25,1.30,1.35,1.40]
];

const ssp370P95 = [1.07,1.45,1.80,2.17,2.50,2.80,3.12,3.43,3.70,3.95,4.20,4.46,4.75,5.00,5.22,5.45,5.70,6.00,6.42];
const ssp370P05 = [-1.18,-1.05,-0.95,-0.82,-0.72,-0.62,-0.55,-0.48,-0.35,-0.25,-0.15,-0.03,0.12,0.27,0.40,0.52,0.70,0.85,0.90];
const ssp370Hi  = [0,0.45,0.78,1.07,1.40,1.75,2.10,2.41,2.70,2.95,3.10,3.28,3.55,3.80,4.00,4.22,4.50,4.90,5.30];
const ssp370Lo  = [0,0.15,0.30,0.44,0.52,0.60,0.65,0.72,0.85,0.95,1.05,1.15,1.28,1.42,1.58,1.70,1.82,1.95,2.03];
const ssp370Med = [0,0.25,0.50,0.76,0.92,1.05,1.18,1.31,1.45,1.60,1.77,1.94,2.12,2.35,2.55,2.80,3.05,3.35,3.67];
const ssp370Members = [
  [0,0.45,0.75,1.05,1.35,1.60,1.90,2.15,2.40,2.65,2.90,3.10,3.35,3.55,3.80,4.05,4.30,4.60,4.90],
  [0,0.40,0.70,0.95,1.20,1.45,1.70,1.95,2.20,2.40,2.65,2.85,3.05,3.30,3.50,3.75,3.95,4.25,4.50],
  [0,0.35,0.65,0.90,1.15,1.35,1.60,1.80,2.05,2.25,2.45,2.65,2.85,3.05,3.25,3.45,3.70,3.95,4.20],
  [0,0.35,0.60,0.85,1.05,1.25,1.50,1.70,1.90,2.10,2.30,2.50,2.65,2.85,3.05,3.25,3.45,3.65,3.90],
  [0,0.30,0.55,0.80,1.00,1.20,1.40,1.60,1.80,1.95,2.15,2.30,2.50,2.65,2.85,3.05,3.25,3.45,3.70],
  [0,0.30,0.50,0.75,0.95,1.10,1.30,1.50,1.65,1.85,2.00,2.20,2.35,2.50,2.70,2.85,3.05,3.25,3.50],
  [0,0.25,0.50,0.70,0.90,1.05,1.25,1.40,1.55,1.75,1.90,2.05,2.20,2.35,2.55,2.70,2.90,3.10,3.30],
  [0,0.25,0.45,0.65,0.80,1.00,1.15,1.30,1.45,1.60,1.75,1.90,2.05,2.20,2.35,2.50,2.70,2.90,3.10],
  [0,0.20,0.40,0.60,0.75,0.90,1.05,1.20,1.35,1.50,1.65,1.80,1.95,2.10,2.25,2.40,2.55,2.70,2.90],
  [0,0.20,0.35,0.55,0.70,0.85,1.00,1.10,1.25,1.40,1.55,1.70,1.80,1.95,2.10,2.25,2.40,2.55,2.70],
  [0,0.15,0.30,0.50,0.60,0.75,0.90,1.00,1.15,1.30,1.40,1.55,1.65,1.80,1.95,2.05,2.20,2.35,2.50],
  [0,0.15,0.30,0.45,0.55,0.70,0.80,0.90,1.05,1.15,1.25,1.40,1.50,1.60,1.75,1.85,2.00,2.15,2.30]
];

// ---------------------------------------------------------------
// Model uncertainty (M) and internal variability (P95 - P05 minus M), °C
// annual centred years 1995-2085
// ---------------------------------------------------------------
const rangeYears = d3.range(1995, 2086);

const ssp126ModelRange = [
  0.00,0.12,0.22,0.28,0.33,0.40,0.44,0.44,0.50,0.58, 0.64,0.70,0.78,0.85,0.89,0.93,0.96,0.98,0.99,1.00,
  1.02,1.05,1.09,1.14,1.18,1.21,1.25,1.28,1.31,1.34, 1.38,1.44,1.50,1.56,1.61,1.65,1.70,1.73,1.77,1.81,
  1.85,1.90,1.95,1.99,2.01,2.02,2.02,2.04,2.05,2.05, 2.07,2.09,2.08,2.11,2.12,2.13,2.15,2.18,2.20,2.22,
  2.24,2.26,2.32,2.38,2.43,2.47,2.50,2.48,2.46,2.47, 2.48,2.46,2.47,2.48,2.47,2.45,2.44,2.43,2.45,2.46,
  2.45,2.48,2.49,2.47,2.49,2.48,2.46,2.47,2.44,2.48, 2.53];
const ssp126IntVar = [
  2.24,2.17,2.16,2.13,2.14,2.16,2.15,2.19,2.21,2.20, 2.19,2.24,2.23,2.24,2.26,2.27,2.26,2.29,2.28,2.31,
  2.30,2.29,2.32,2.34,2.33,2.32,2.34,2.36,2.37,2.34, 2.30,2.27,2.26,2.27,2.25,2.22,2.18,2.15,2.14,2.15,
  2.16,2.15,2.14,2.15,2.15,2.13,2.15,2.14,2.17,2.15, 2.14,2.13,2.15,2.14,2.16,2.14,2.13,2.15,2.18,2.21,
  2.19,2.12,2.07,2.05,2.06,2.05,2.06,2.07,2.11,2.08, 2.06,2.08,2.10,2.11,2.08,2.06,2.09,2.12,2.10,2.09,
  2.08,2.07,2.06,2.05,2.03,2.02,2.08,2.13,2.17,2.18, 2.19];

const ssp245ModelRange = [
  0.00,0.12,0.21,0.27,0.33,0.37,0.40,0.42,0.41,0.44, 0.48,0.53,0.62,0.69,0.71,0.71,0.73,0.76,0.79,0.82,
  0.86,0.88,0.91,0.95,0.97,1.00,1.03,1.05,1.08,1.10, 1.13,1.15,1.15,1.19,1.23,1.26,1.29,1.33,1.37,1.40,
  1.44,1.47,1.50,1.53,1.58,1.65,1.71,1.77,1.83,1.89, 1.95,1.98,1.99,1.99,2.01,2.02,2.04,2.08,2.13,2.18,
  2.22,2.26,2.27,2.28,2.28,2.30,2.31,2.32,2.34,2.37, 2.41,2.44,2.47,2.50,2.53,2.56,2.61,2.64,2.62,2.66,
  2.67,2.66,2.65,2.66,2.70,2.73,2.76,2.78,2.73,2.70, 2.74];
const ssp245IntVar = [
  2.26,2.20,2.18,2.18,2.17,2.18,2.16,2.16,2.14,2.13, 2.17,2.15,2.15,2.16,2.20,2.18,2.21,2.23,2.22,2.24,
  2.25,2.27,2.28,2.26,2.22,2.19,2.15,2.13,2.18,2.23, 2.24,2.20,2.15,2.12,2.10,2.12,2.15,2.14,2.13,2.14,
  2.16,2.18,2.17,2.13,2.11,2.10,2.10,2.11,2.14,2.18, 2.17,2.15,2.16,2.19,2.22,2.23,2.23,2.24,2.22,2.20,
  2.18,2.21,2.23,2.24,2.25,2.25,2.26,2.26,2.25,2.22, 2.24,2.27,2.30,2.33,2.35,2.36,2.34,2.31,2.28,2.25,
  2.23,2.26,2.29,2.31,2.28,2.25,2.22,2.20,2.23,2.25, 2.23];

const ssp370ModelRange = [
  0.00,0.16,0.27,0.33,0.38,0.41,0.45,0.50,0.55,0.57, 0.59,0.63,0.68,0.73,0.79,0.85,0.90,0.95,0.98,0.99,
  1.00,1.04,1.09,1.14,1.16,1.19,1.21,1.25,1.29,1.32, 1.35,1.37,1.41,1.45,1.50,1.55,1.61,1.66,1.70,1.72,
  1.74,1.78,1.82,1.86,1.89,1.92,1.94,1.96,1.97,2.00, 2.03,2.05,2.06,2.07,2.08,2.10,2.15,2.20,2.24,2.28,
  2.31,2.32,2.33,2.33,2.34,2.35,2.35,2.36,2.37,2.42, 2.46,2.51,2.57,2.62,2.63,2.62,2.64,2.67,2.70,2.73,
  2.78,2.86,2.94,3.00,3.04,3.06,3.07,3.10,3.14,3.20, 3.30];
const ssp370IntVar = [
  2.24,2.18,2.16,2.17,2.18,2.17,2.15,2.14,2.13,2.18, 2.23,2.25,2.26,2.23,2.20,2.19,2.21,2.24,2.26,2.28,
  2.30,2.29,2.28,2.29,2.29,2.30,2.31,2.32,2.35,2.37, 2.33,2.28,2.26,2.30,2.35,2.39,2.35,2.31,2.31,2.35,
  2.39,2.37,2.35,2.34,2.36,2.38,2.40,2.36,2.32,2.29, 2.31,2.34,2.35,2.32,2.30,2.29,2.30,2.32,2.34,2.31,
  2.28,2.26,2.27,2.29,2.31,2.30,2.28,2.27,2.26,2.23, 2.20,2.18,2.20,2.22,2.24,2.23,2.21,2.18,2.17,2.20,
  2.23,2.24,2.20,2.15,2.11,2.12,2.15,2.18,2.20,2.23, 2.25];

// ---------------------------------------------------------------
// Text
// ---------------------------------------------------------------
const rowLabels = ["SSP1-2.6 (24)", "SSP2-4.5 (25)", "SSP3-7.0 (22)"];
const colLetters = ["(a)", "(b)", "(c)", "(d)"];
const colTitles = [
  ["June-July-August Average", "Max. Daily Temperature [°C]"],
  ["Uncertainty Quantification", "[Diff. from 1981-2010 CM]"],
  ["Range of Model Uncertainty", "and Internal Variability [°C]"],
  [null, "Fractional Uncertainty [%]"]
];
const xTickLabels = [2010, 2050, 2090];

// ---------------------------------------------------------------
// Drawing
// ---------------------------------------------------------------
const SERIF = "'DejaVu Serif', serif";
const SANS = "Lato, 'Open Sans', sans-serif";
const VS = 1.09;                       // glyphs are drawn slightly tall
const INK = "#111";
const BLUE = "#3a4ba2", ORANGE = "#ff6d0d", GREEN = "#0f840f", BASEGREEN = "#2e9a2e";
const GRID = "#7d7d7d", ANNOT = "#5c5c5c";
const FILL_BLUE = "#b2b8da", FILL_ORANGE = "#fdc49b";

const scenarios = [
  {runs: ssp126Runs, runColor: "#a9d2f0", memColor: "#a9d2f0",
   p95: ssp126P95, p05: ssp126P05, hi: ssp126Hi, lo: ssp126Lo, med: ssp126Med, members: ssp126Members,
   model: ssp126ModelRange, intvar: ssp126IntVar},
  {runs: ssp245Runs, runColor: "#f9dcb1", memColor: "#f8d6a6",
   p95: ssp245P95, p05: ssp245P05, hi: ssp245Hi, lo: ssp245Lo, med: ssp245Med, members: ssp245Members,
   model: ssp245ModelRange, intvar: ssp245IntVar},
  {runs: ssp370Runs, runColor: "#f6bbb5", memColor: "#f5b9b3",
   p95: ssp370P95, p05: ssp370P05, hi: ssp370Hi, lo: ssp370Lo, med: ssp370Med, members: ssp370Members,
   model: ssp370ModelRange, intvar: ssp370IntVar}
];

const svg = d3.select("#fig");
svg.append("rect").attr("width", 1921).attr("height", 1048).attr("fill", "#fff");

const colX = [123, 598, 1074, 1551];
const rowY = [113, 432, 750.7];
const PW = 369, PH = 255;

// plot-area clip shared by every panel
svg.append("defs").append("clipPath").attr("id", "plotArea")
  .append("rect").attr("width", PW).attr("height", PH);

const x  = d3.scaleLinear().domain([1980, 2100]).range([0, PW]);
const yA = d3.scaleLinear().domain([24, 36]).range([PH, 0]);
const yB = d3.scaleLinear().domain([-4.3, 7.7]).range([PH, 0]);
const yC = d3.scaleLinear().domain([0, 4]).range([PH, 0]);
const yD = d3.scaleLinear().domain([0, 100]).range([PH, 0]);

function label(g, px, py, s, o = {}) {
  return g.append("text")
    .attr("transform", `translate(${px},${py}) scale(1,${VS})` + (o.rotate ? ` rotate(${o.rotate})` : ""))
    .attr("text-anchor", o.anchor || "middle")
    .attr("font-family", o.family || SERIF)
    .attr("font-size", o.size || 22)
    .attr("fill", o.fill || "#1a1a1a")
    .text(s);
}

function panel(col, row) {
  const g = svg.append("g").attr("transform", `translate(${colX[col]},${rowY[row]})`);
  g.plot = g.append("g").attr("clip-path", "url(#plotArea)");
  return g;
}

function grid(g, y, values) {
  g.append("g").selectAll("line").data(values).join("line")
    .attr("x1", 0).attr("x2", PW)
    .attr("y1", d => y(d)).attr("y2", d => y(d))
    .attr("stroke", GRID).attr("stroke-width", 2)
    .attr("stroke-dasharray", "2 3.7");
}

function frame(g, y, ticks, labelled, fmt) {
  g.append("g").attr("transform", `translate(0,${PH})`)
    .call(d3.axisBottom(x).tickValues(d3.range(1980, 2101, 10)).tickSize(6).tickFormat(() => ""))
    .call(a => a.select(".domain").remove())
    .selectAll("line").attr("stroke", INK).attr("stroke-width", 1.6);
  g.append("g")
    .call(d3.axisLeft(y).tickValues(ticks).tickSize(-9).tickFormat(() => ""))
    .call(a => a.select(".domain").remove())
    .selectAll("line").attr("stroke", INK).attr("stroke-width", 2.4);
  g.append("rect").attr("width", PW).attr("height", PH)
    .attr("fill", "none").attr("stroke", INK).attr("stroke-width", 2.4);
  labelled.forEach(v => label(g, -13.5, y(v) + 8.75, fmt(v), {anchor: "end"}));
  xTickLabels.forEach(v => label(g, x(v), PH + 37.5, String(v)));
}

function path(g, data, lineGen, stroke, width, extra = {}) {
  const p = g.append("path").datum(data).attr("d", lineGen)
    .attr("fill", "none").attr("stroke", stroke).attr("stroke-width", width)
    .attr("stroke-linejoin", "round").attr("stroke-linecap", extra.cap || "round");
  if (extra.dash) p.attr("stroke-dasharray", extra.dash);
  if (extra.opacity) p.attr("stroke-opacity", extra.opacity);
  return p;
}

const obsMean = d3.mean(obsTmax);

scenarios.forEach((sc, r) => {
  // (a) temperature series
  const gA = panel(0, r), pA = gA.plot;
  grid(pA, yA, [26, 28, 30, 32, 34]);
  const histLine = d3.line().x((d, i) => x(histStart + i)).y(d => yA(d));
  const futLine = d3.line().x((d, i) => x(futStart + i)).y(d => yA(d));
  histRuns.forEach(run => path(pA, run, histLine, "#c9c9c9", 1.2, {cap: "butt"}));
  sc.runs.forEach(run => path(pA, run, futLine, sc.runColor, 1.2, {cap: "butt"}));
  pA.append("line").attr("x1", x(obsStart)).attr("x2", x(2100))
    .attr("y1", yA(obsMean)).attr("y2", yA(obsMean))
    .attr("stroke", BASEGREEN).attr("stroke-width", 1.8);
  path(pA, obsTmax, d3.line().x((d, i) => x(obsStart + i)).y(d => yA(d)), GREEN, 2.6);
  frame(gA, yA, d3.range(24, 37, 2), [24, 28, 32, 36], d => String(d));

  // (b) change relative to 1981-2010
  const gB = panel(1, r), pB = gB.plot;
  grid(pB, yB, [-4, -2, 2, 4, 6]);
  pB.append("line").attr("x1", 0).attr("x2", PW).attr("y1", yB(0)).attr("y2", yB(0))
    .attr("stroke", BASEGREEN).attr("stroke-width", 1.6);
  const stepLine = d3.line().x((d, i) => x(stepYears[i])).y(d => yB(d));
  sc.members.forEach(m => path(pB, m, stepLine, sc.memColor, 1.2, {opacity: 0.9}));
  path(pB, sc.p95, stepLine, ORANGE, 4.2);
  path(pB, sc.p05, stepLine, ORANGE, 4.2);
  path(pB, sc.hi, stepLine, BLUE, 4.2);
  path(pB, sc.lo, stepLine, BLUE, 4.2);
  path(pB, sc.med, stepLine, BLUE, 3.2, {dash: "10 6", cap: "butt"});
  frame(gB, yB, [-4, -2, 0, 2, 4, 6], [-4, -2, 0, 2, 4, 6],
        d => (d < 0 ? "\u2212" : "+") + Math.abs(d).toFixed(1));

  // (c) model range and internal variability
  const gC = panel(2, r), pC = gC.plot;
  grid(pC, yC, [0.5, 1, 1.5, 2, 2.5, 3, 3.5]);
  const rangeLine = d3.line().x((d, i) => x(rangeYears[i])).y(d => yC(d));
  path(pC, sc.intvar, rangeLine, ORANGE, 3.6);
  path(pC, sc.model, rangeLine, BLUE, 3.6);
  frame(gC, yC, d3.range(0, 4.01, 0.5), d3.range(0, 4.01, 0.5), d => d.toFixed(1));

  // (d) fraction of the total range explained by model uncertainty
  const gD = panel(3, r), pD = gD.plot;
  const frac = sc.model.map((m, i) => 100 * m / (m + sc.intvar[i]));
  pD.append("path").datum(rangeYears)
    .attr("d", d3.area().x(d => x(d)).y0(yD(0)).y1(yD(100)))
    .attr("fill", FILL_ORANGE);
  pD.append("path").datum(frac)
    .attr("d", d3.area().x((d, i) => x(rangeYears[i])).y0(yD(0)).y1(d => yD(d)))
    .attr("fill", FILL_BLUE);
  grid(pD, yD, [20, 40, 60, 80]);
  frame(gD, yD, d3.range(0, 101, 20), d3.range(0, 101, 20), d => String(d));

  // row label
  label(svg, 40, rowY[r] + PH / 2, rowLabels[r], {rotate: -90, size: 26});
});

// column headings
colLetters.forEach((t, c) => {
  const cx = colX[c] + PW / 2;
  label(svg, cx, 27.5, t, {size: 25});
  if (colTitles[c][0]) label(svg, cx, 61.5, colTitles[c][0], {size: 25});
  label(svg, cx, 91.5, colTitles[c][1], {size: 25});
});

// ---------------------------------------------------------------
// Explanatory marks on the SSP2-4.5 row
// ---------------------------------------------------------------
(function annotate() {
  const sc = scenarios[1];
  const n = stepYears.length - 1;
  const gB = svg.append("g").attr("transform", `translate(${colX[1]},${rowY[1]})`);
  const vP95 = yB(sc.p95[n]), vHi = yB(sc.hi[n]), vLo = yB(sc.lo[n]), vP05 = yB(sc.p05[n]);
  const bx = x(stepYears[n]) + 24;

  // pale backing behind the bracket labels
  gB.append("rect").attr("x", x(stepYears[n]) + 4).attr("y", vP95 - 10)
    .attr("width", 92).attr("height", vP05 - vP95 + 19)
    .attr("fill", "#fff").attr("fill-opacity", 0.75);

  gB.append("line").attr("x1", bx).attr("x2", bx).attr("y1", vP95).attr("y2", vP05)
    .attr("stroke", ANNOT).attr("stroke-width", 3);
  [vP95, vHi, vLo, vP05].forEach(v => gB.append("line")
    .attr("x1", bx - 11).attr("x2", bx + 11).attr("y1", v).attr("y2", v)
    .attr("stroke", ANNOT).attr("stroke-width", 3));
  const cap = 0.36 * 31 * VS;
  label(gB, bx + 12, (vP95 + vHi) / 2 + cap, "P95", {family: SANS, size: 31, fill: ORANGE, anchor: "start"});
  label(gB, bx + 12, (vHi + vLo) / 2 + cap, "M", {family: SANS, size: 31, fill: BLUE, anchor: "start"});
  label(gB, bx + 12, (vLo + vP05) / 2 + cap, "P05", {family: SANS, size: 31, fill: ORANGE, anchor: "start"});

  const gC = svg.append("g").attr("transform", `translate(${colX[2]},${rowY[1]})`);
  function dblArrow(px, v) {
    const y0 = yC(0), y1 = yC(v);
    gC.append("line").attr("x1", px).attr("x2", px).attr("y1", y0).attr("y2", y1)
      .attr("stroke", ANNOT).attr("stroke-width", 3.2);
    [[y1, 1], [y0, -1]].forEach(([yy, s]) => gC.append("polyline")
      .attr("points", `${px - 10.5},${yy + s * 16} ${px},${yy} ${px + 10.5},${yy + s * 16}`)
      .attr("fill", "none").attr("stroke", ANNOT).attr("stroke-width", 3.2));
  }
  const mYear = 2025, ivYear = 2073;
  const mx = x(mYear), ivx = x(ivYear);
  dblArrow(mx, sc.model[rangeYears.indexOf(mYear)]);
  dblArrow(ivx, sc.intvar[rangeYears.indexOf(ivYear)]);
  const base = yC(0);
  label(gC, mx + 17, base - 32 + cap, "M", {family: SANS, size: 31, fill: BLUE, anchor: "start"});
  label(gC, ivx + 8, base - 90 + cap, "P95", {family: SANS, size: 31, fill: ORANGE, anchor: "start"});
  gC.append("line").attr("x1", ivx + 25).attr("x2", ivx + 43)
    .attr("y1", base - 67).attr("y2", base - 67)
    .attr("stroke", ORANGE).attr("stroke-width", 2.6);
  label(gC, ivx + 8, base - 42 + cap, "P05", {family: SANS, size: 31, fill: ORANGE, anchor: "start"});
})();
</script>
</body>
</html>
